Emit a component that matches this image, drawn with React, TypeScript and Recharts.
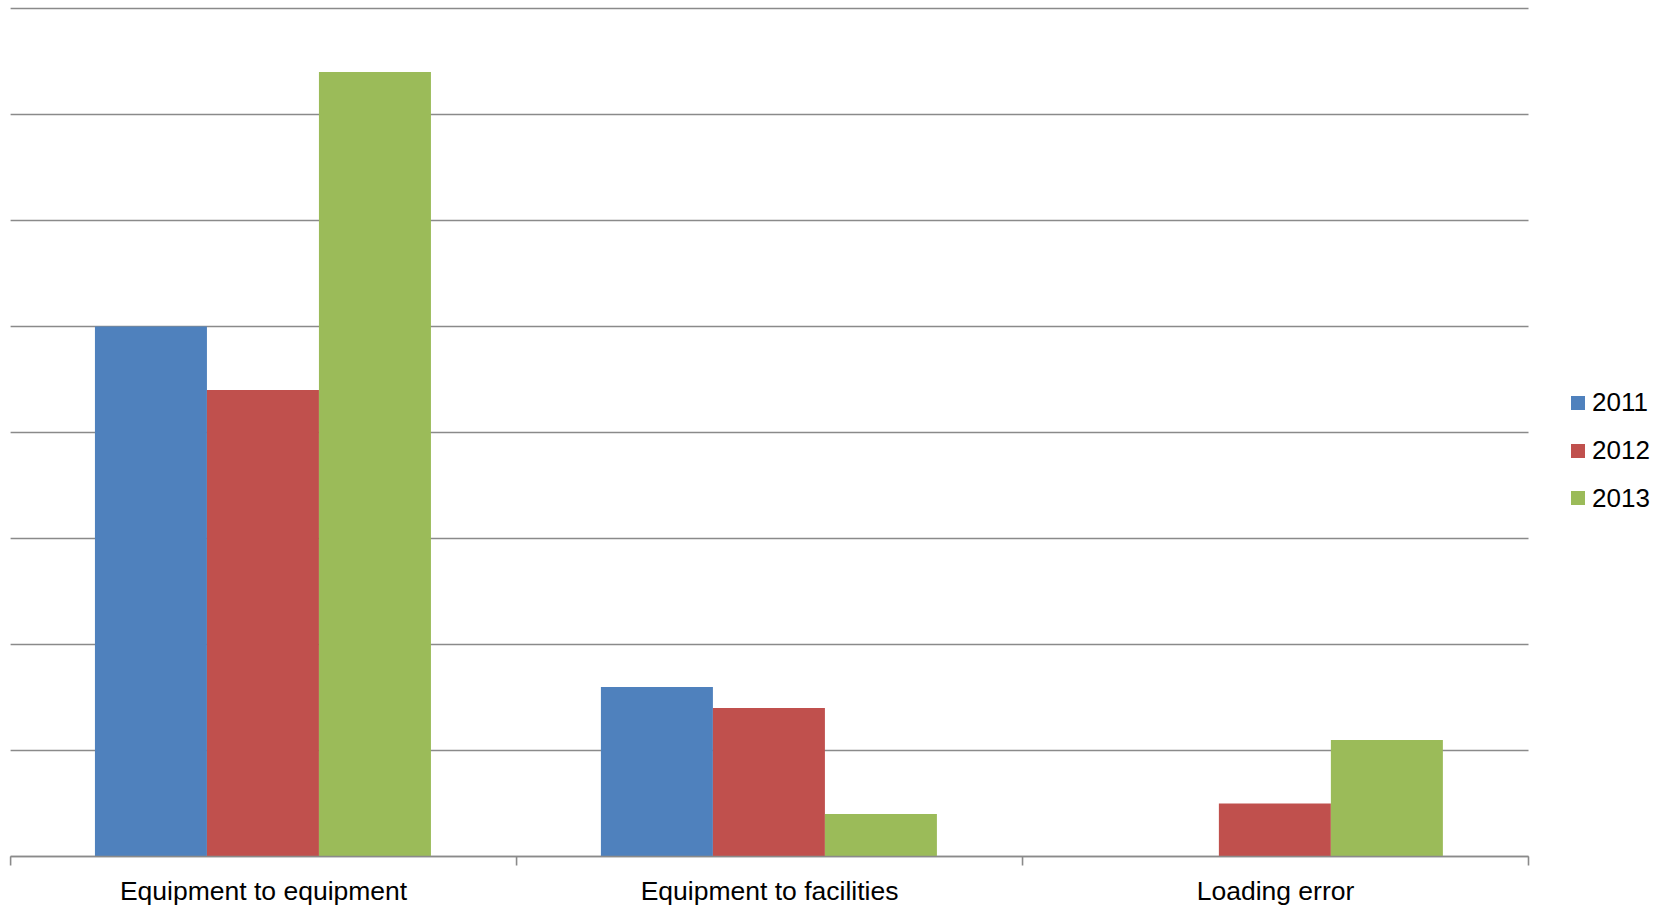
import { BarChart, Bar, XAxis, YAxis, CartesianGrid, Legend } from "recharts"

// ── Data ──
const categories = ["Equipment to equipment", "Equipment to facilities", "Loading error"]
const values2011 = [5.0, 1.6, 0]
const values2012 = [4.4, 1.4, 0.5]
const values2013 = [7.4, 0.4, 1.1]
const yTicks = [0, 1, 2, 3, 4, 5, 6, 7, 8]

const SERIES = [
  { key: "y2011", name: "2011", color: "#4F81BD" },
  { key: "y2012", name: "2012", color: "#C0504D" },
  { key: "y2013", name: "2013", color: "#9BBB59" },
]

const data = categories.map((name, i) => ({
  name,
  y2011: values2011[i],
  y2012: values2012[i],
  y2013: values2013[i],
}))

const FONT = "'Liberation Sans', Arial, sans-serif"
const GRID = "#8A8A8A"
const LEGEND_W = 90

// category label plus the small marks on the boundaries between categories
function CategoryTick({ x, y, payload, width, visibleTicksCount, index }: any) {
  const half = payload.offset || width / visibleTicksCount / 2
  const isLast = index === visibleTicksCount - 1
  return (
    <g>
      <line x1={x - half} x2={x - half} y1={y} y2={y + 9} stroke={GRID} strokeWidth={1.6} />
      {isLast && <line x1={x + half} x2={x + half} y1={y} y2={y + 9} stroke={GRID} strokeWidth={1.6} />}
      <text x={x} y={y + 34} textAnchor="middle" dominantBaseline="central"
        fontFamily={FONT} fontSize={26.5} fill="#000">
        {payload.value}
      </text>
    </g>
  )
}

function LegendBox({ payload }: any) {
  return (
    <div style={{ fontFamily: FONT, fontSize: 26, color: "#000" }}>
      {payload.map((p: any) => (
        <div key={p.value} style={{ display: "flex", alignItems: "center", height: 47.7 }}>
          <span style={{ width: 14, height: 14, background: p.color, marginRight: 7, display: "inline-block" }} />
          <span>{p.value}</span>
        </div>
      ))}
    </div>
  )
}

export default function App() {
  return (
    <div style={{ position: "fixed", left: 0, top: 0, width: 1662, height: 909, background: "#fff" }}>
      <BarChart
        width={1662}
        height={909}
        data={data}
        margin={{ top: 8.5, right: 133.5 - LEGEND_W, left: 10.6, bottom: 12.5 }}
        barCategoryGap="16.67%"
        barGap={0}
      >
        <CartesianGrid vertical={false} stroke={GRID} strokeWidth={1.6} />
        <XAxis dataKey="name" height={40} tickLine={false} tickSize={0} tickMargin={0}
          stroke={GRID} strokeWidth={1.6} tick={<CategoryTick />} interval={0} />
        <YAxis hide domain={[0, 8]} ticks={yTicks} />
        <Legend layout="vertical" align="right" verticalAlign="middle" content={<LegendBox />}
          wrapperStyle={{ left: 1571, top: 379, width: LEGEND_W }} />
        {SERIES.map((s) => (
          <Bar key={s.key} dataKey={s.key} name={s.name} fill={s.color}
            isAnimationActive={false} />
        ))}
      </BarChart>
    </div>
  )
}
